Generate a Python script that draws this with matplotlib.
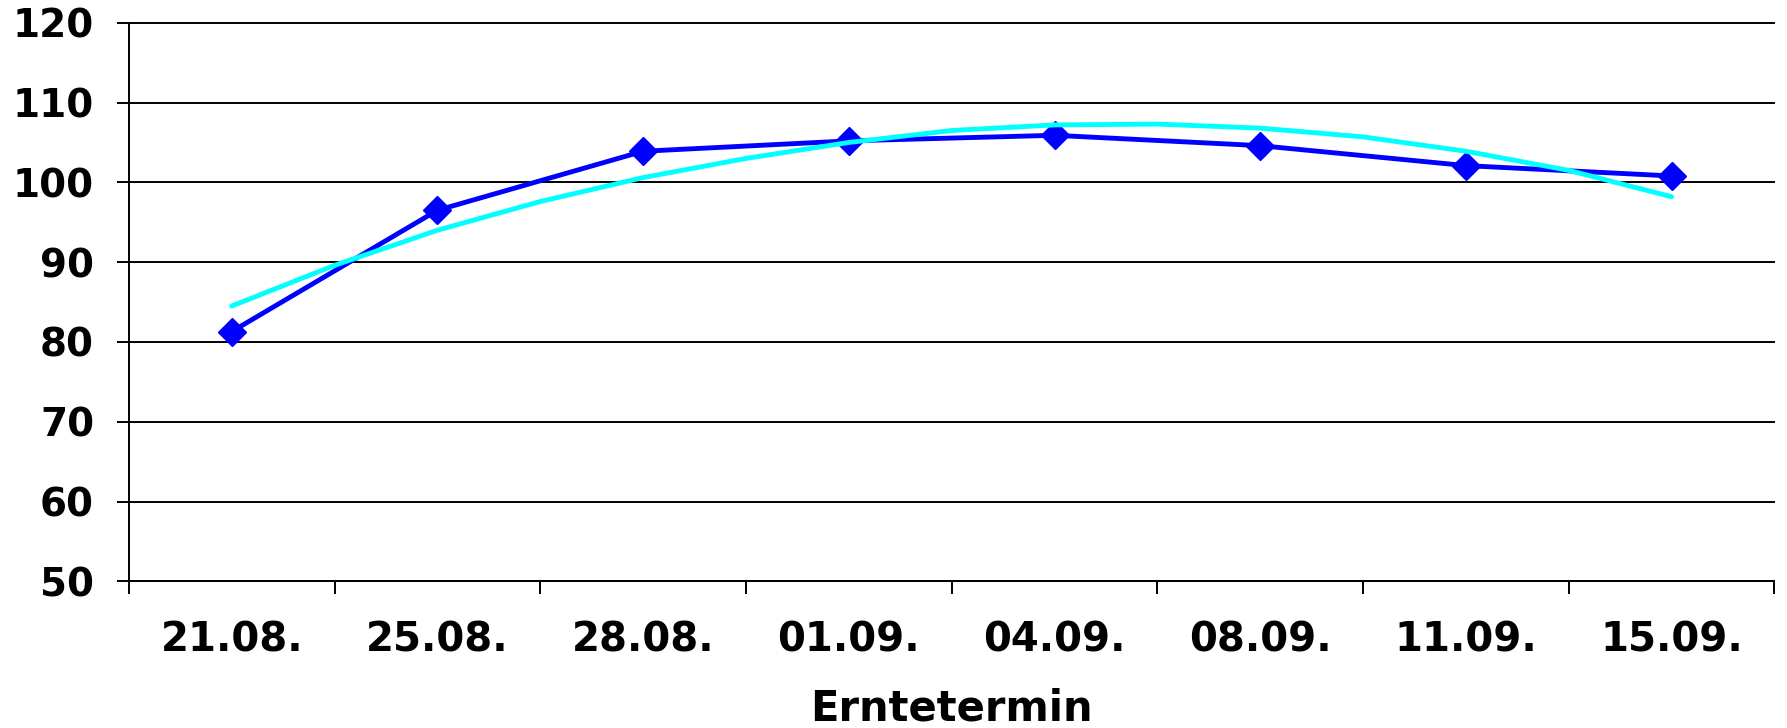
import matplotlib
matplotlib.use("Agg")
import matplotlib.pyplot as plt
from matplotlib.ticker import FixedLocator, MultipleLocator

# harvest dates and relative yield values
dates = ["21.08.", "25.08.", "28.08.", "01.09.", "04.09.", "08.09.", "11.09.", "15.09."]
yield_values = [81.3, 96.5, 103.9, 105.2, 105.9, 104.6, 102.1, 100.8]

# trend curve, read at every half harvest step
trend_pos = [0, 0.5, 1, 1.5, 2, 2.5, 3, 3.5, 4, 4.5, 5, 5.5, 6, 6.5, 7]
trend_values = [84.5, 89.6, 94.0, 97.6, 100.6, 103.0, 105.0, 106.5,
                107.2, 107.3, 106.8, 105.7, 103.9, 101.5, 98.2]


def main() -> None:
    fig = plt.figure(figsize=(17.87, 7.28), dpi=100)
    ax = fig.add_axes([0.0721, 0.2015, 0.9209, 0.7672])

    x = list(range(len(dates)))
    ax.plot(x, yield_values, color="#0000ff", linewidth=3.5, marker="D",
            markersize=14, zorder=3)
    ax.plot(trend_pos, trend_values, color="#00ffff", linewidth=3.5,
            solid_capstyle="round", solid_joinstyle="round", zorder=4)

    ax.set_xlim(-0.5, len(dates) - 0.5)
    ax.set_ylim(50, 120)
    ax.yaxis.set_major_locator(MultipleLocator(10))
    ax.grid(axis="y", color="black", linewidth=1.4)
    ax.set_axisbelow(True)
    for gl in ax.get_ygridlines():
        gl.set_clip_on(False)

    ax.xaxis.set_major_locator(FixedLocator([i - 0.5 for i in range(len(dates) + 1)]))
    ax.xaxis.set_minor_locator(FixedLocator(x))
    ax.set_xticklabels([])
    ax.set_xticklabels(dates, minor=True)
    ax.tick_params(axis="x", which="major", length=9, width=1.4, color="black")
    ax.tick_params(axis="x", which="minor", length=0, pad=28, labelsize=29)
    ax.tick_params(axis="y", length=9, width=1.4, pad=16, labelsize=28)
    for lab in ax.get_xticklabels(minor=True) + ax.get_yticklabels():
        lab.set_fontweight("bold")

    for side in ("top", "right"):
        ax.spines[side].set_visible(False)
    for side in ("left", "bottom"):
        ax.spines[side].set_linewidth(1.4)
        ax.spines[side].set_color("black")

    ax.set_xlabel("Erntetermin", fontsize=30, fontweight="bold", labelpad=20)

    fig.savefig("out.png", dpi=100)
    plt.close(fig)


if __name__ == "__main__":
    main()
